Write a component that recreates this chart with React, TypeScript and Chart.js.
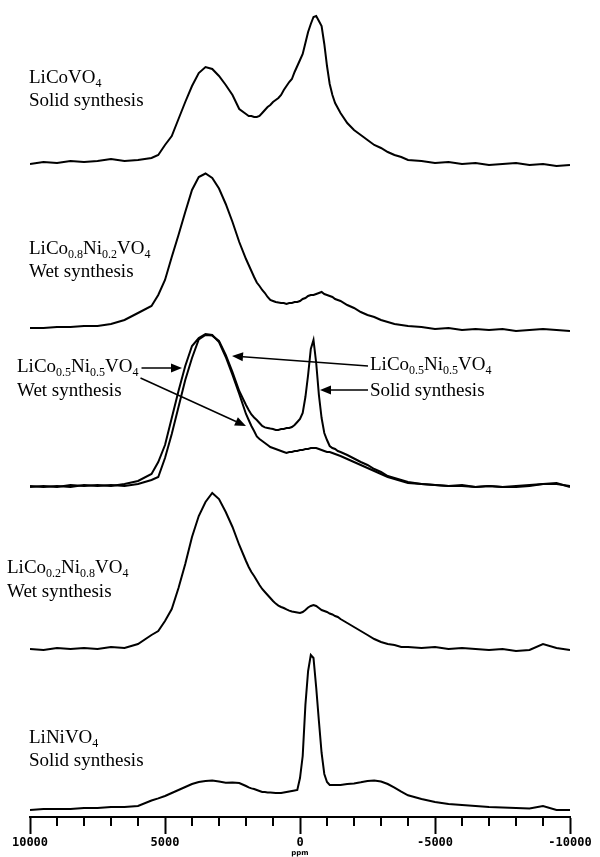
import React, { useEffect, useRef } from 'react';
import { Chart, registerables } from 'chart.js';

Chart.register(...registerables);

// chemical shift grid (ppm)
const PPM = [
  10000, 9500, 9000, 8500, 8000, 7500, 7000, 6500, 6000, 5500,
  5250, 5000, 4750, 4500, 4250, 4000, 3750, 3500, 3250, 3000, 2750, 2500, 2250, 2000,
  1900, 1800, 1700, 1600, 1500, 1400, 1300, 1200, 1100, 1000, 900, 800, 700, 600, 500, 400, 300, 200, 100, 0,
  -100, -200, -300, -400, -500, -600, -700, -800, -900, -1000, -1100, -1200, -1300, -1400, -1500,
  -1750, -2000, -2250, -2500, -2750, -3000, -3250, -3500, -3750, -4000,
  -4500, -5000, -5500, -6000, -6500, -7000, -7500, -8000, -8500, -9000, -9500, -10000,
];

// intensities (relative to each trace's own baseline)
const LICOVO4_SOLID = [
  1, 3, 2, 4, 3, 4, 6, 4, 5, 7,
  10, 20, 29, 46, 63, 79, 92, 98, 96, 89, 80, 70, 56, 51,
  49, 49, 48, 48, 49, 52, 55, 58, 60, 63, 65, 67, 70, 75, 79, 83, 86, 93, 99, 105,
  111, 122, 133, 141, 148, 149, 144, 139, 121, 99, 81, 70, 62, 57, 52,
  42, 35, 30, 25, 20, 17, 13, 10, 8, 5,
  4, 2, 3, 1, 2, 0, 1, 2, 0, 1, -1, 0,
];
const LICO08NI02_WET = [
  2, 2, 3, 3, 4, 4, 6, 10, 17, 24,
  35, 50, 73, 95, 118, 140, 153, 156.5, 152, 141.5, 126, 108, 88, 71,
  65, 59, 53, 47.5, 44, 40, 37, 33, 30, 29, 28, 27.5, 27, 27, 26, 27, 27, 28, 28, 29,
  31, 32, 34, 35, 35, 36, 37, 38, 36, 35, 34, 33, 31, 30, 29,
  25, 22, 18, 15, 13, 10, 8, 6, 5, 4,
  3, 1, 2, 0, 1, 0, 1, -1, 0, 1, 0, -1,
];
const LICO05NI05_WET = [
  0, 1, 0, 2, 1, 2, 1, 3, 6, 13,
  25, 42, 69, 96, 121, 141, 149, 153, 152, 145, 130, 112, 93, 73,
  67, 61, 56, 50.5, 48, 46, 44, 42, 40, 39, 38, 37, 36, 35, 34, 35, 35, 36, 36, 37,
  37, 38, 38, 39, 39, 39, 38, 37, 36, 35, 35, 34, 33, 32, 31,
  28, 25, 22, 19, 16, 13, 10, 8, 6, 4,
  3, 2, 1, 2, 0, 1, 0, 1, 2, 3, 4, 0,
];
const LICO05NI05_SOLID = [
  1, 0, 1, 0, 2, 1, 2, 1, 3, 7,
  10, 29, 53, 80, 107, 129, 147.5, 152, 151.4, 146, 132, 115, 96, 82,
  77, 72.5, 69.5, 67, 64, 61, 59.6, 59, 58.4, 58, 57, 57, 58, 58, 59, 59, 60, 62, 65, 68,
  74, 90, 112, 138, 147, 124, 92, 69, 54, 47, 41, 39, 38, 36, 35,
  32, 28.5, 25, 22, 18, 15, 11, 9, 7, 5,
  3, 2, 1, 1, 0, 1, 0, 0, 1, 3, 3, 1,
];
const LICO02NI08_WET = [
  2, 1, 3, 2, 3, 2, 4, 3, 7, 16,
  20, 30, 42, 63, 87, 114, 135, 149, 158, 152, 139, 124, 106, 90,
  84, 79, 75, 70.5, 66, 62, 59, 56, 53, 50, 47.4, 45.4, 44, 43, 41.6, 40.4, 39.5, 39, 38.5, 38,
  39, 41, 43.5, 45, 46, 45, 43, 41, 40, 39, 37.5, 36.5, 35, 34, 32,
  28, 24, 20, 16, 12, 9, 7, 6, 4, 4,
  3, 4, 2, 3, 2, 1, 2, 0, 1, 7, 3, 1,
];
const LINIVO4_SOLID = [
  0, 1, 1, 1, 2, 2, 3, 3, 4, 9.5,
  11.6, 14, 17, 20, 23, 26, 28, 29, 29.6, 28.4, 27.2, 27.5, 27, 24,
  22.6, 21.6, 21, 20, 19, 18, 18, 17.6, 17.4, 17.2, 17, 17, 17, 17.5, 18, 18.5, 19, 19.5, 20, 32,
  54, 105, 139, 155, 152, 122.5, 89, 57, 36, 28, 25, 25, 25, 25, 25,
  26, 26.6, 27.7, 29, 29.6, 28.5, 26, 22.4, 18.4, 14.7,
  11, 8, 6, 5, 4, 3, 2.5, 2, 1.5, 4, 0, 0,
];

const MAJOR_TICKS = [10000, 5000, 0, -5000, -10000];
const MINOR_TICKS = [9000, 8000, 7000, 6000, 4000, 3000, 2000, 1000, -1000, -2000, -3000, -4000, -6000, -7000, -8000, -9000];

// vertical stacking offsets (layout)
const STACK = { s1: 652, s2: 487, s3: 330, s4: 166, s5: 7 };

const SERIF = '"Liberation Serif", "Times New Roman", serif';
const MAIN_FONT = `19px ${SERIF}`;
const SUB_FONT = `12px ${SERIF}`;

type Part = { t: string; sub?: boolean };

function drawRich(ctx: CanvasRenderingContext2D, x: number, y: number, parts: Part[]) {
  let cx = x;
  for (const p of parts) {
    ctx.font = p.sub ? SUB_FONT : MAIN_FONT;
    ctx.fillText(p.t, cx, p.sub ? y + 4 : y);
    cx += ctx.measureText(p.t).width;
  }
  return cx;
}

function arrow(ctx: CanvasRenderingContext2D, x1: number, y1: number, x2: number, y2: number) {
  const ang = Math.atan2(y2 - y1, x2 - x1);
  const len = 11;
  const hw = 4.5;
  const bx = x2 - Math.cos(ang) * len;
  const by = y2 - Math.sin(ang) * len;
  ctx.beginPath();
  ctx.moveTo(x1, y1);
  ctx.lineTo(bx, by);
  ctx.lineWidth = 1.5;
  ctx.stroke();
  ctx.beginPath();
  ctx.moveTo(x2, y2);
  ctx.lineTo(bx - Math.sin(ang) * hw, by + Math.cos(ang) * hw);
  ctx.lineTo(bx + Math.sin(ang) * hw, by - Math.cos(ang) * hw);
  ctx.closePath();
  ctx.fill();
}

const formula = (a: string, b?: string, c?: string): Part[] => {
  if (!b) return [{ t: a }, { t: 'VO' }, { t: '4', sub: true }];
  return [{ t: 'LiCo' }, { t: b, sub: true }, { t: 'Ni' }, { t: c as string, sub: true }, { t: 'VO' }, { t: '4', sub: true }];
};

const annotationPlugin = {
  id: 'annot',
  afterDraw(chart: any) {
    const ctx: CanvasRenderingContext2D = chart.ctx;
    const xs = chart.scales.x;
    const axisY = chart.chartArea.bottom;
    ctx.save();
    ctx.fillStyle = '#000';
    ctx.strokeStyle = '#000';
    // minor ticks
    ctx.lineWidth = 2;
    for (const v of MINOR_TICKS) {
      const px = Math.round(xs.getPixelForValue(v));
      ctx.beginPath();
      ctx.moveTo(px, axisY);
      ctx.lineTo(px, axisY + 9);
      ctx.stroke();
    }
    ctx.textBaseline = 'alphabetic';
    // trace labels
    drawRich(ctx, 29, 83, formula('LiCo'));
    drawRich(ctx, 29, 106, [{ t: 'Solid synthesis' }]);

    drawRich(ctx, 29, 254, formula('', '0.8', '0.2'));
    drawRich(ctx, 29, 277, [{ t: 'Wet synthesis' }]);

    const endL = drawRich(ctx, 17, 372, formula('', '0.5', '0.5'));
    drawRich(ctx, 17, 396, [{ t: 'Wet synthesis' }]);
    drawRich(ctx, 370, 370, formula('', '0.5', '0.5'));
    drawRich(ctx, 370, 396, [{ t: 'Solid synthesis' }]);

    drawRich(ctx, 7, 573, formula('', '0.2', '0.8'));
    drawRich(ctx, 7, 597, [{ t: 'Wet synthesis' }]);

    drawRich(ctx, 29, 743, formula('LiNi'));
    drawRich(ctx, 29, 766, [{ t: 'Solid synthesis' }]);

    // arrows
    arrow(ctx, endL + 3, 368, 182, 368);
    arrow(ctx, endL + 2, 378, 246, 426);
    arrow(ctx, 368, 366, 232, 356);
    arrow(ctx, 368, 390, 320, 390);
    ctx.restore();
  },
};

const mk = (arr: number[], off: number) => ({
  data: PPM.map((x, i) => ({ x, y: arr[i] + off })),
  borderColor: '#000',
  borderWidth: 2,
  pointRadius: 0,
  tension: 0,
  fill: false,
});

export default function App() {
  const ref = useRef<HTMLCanvasElement>(null);
  useEffect(() => {
    if (!ref.current) return;
    const chart = new Chart(ref.current, {
      type: 'line',
      data: {
        datasets: [
          mk(LICOVO4_SOLID, STACK.s1),
          mk(LICO08NI02_WET, STACK.s2),
          mk(LICO05NI05_WET, STACK.s3),
          mk(LICO05NI05_SOLID, STACK.s3),
          mk(LICO02NI08_WET, STACK.s4),
          mk(LINIVO4_SOLID, STACK.s5),
        ] as any,
      },
      options: {
        animation: false,
        responsive: false,
        devicePixelRatio: 1,
        layout: { padding: { left: 30, right: 30, top: 0, bottom: 0 } },
        plugins: { legend: { display: false }, tooltip: { enabled: false } },
        scales: {
          x: {
            type: 'linear',
            reverse: true,
            min: -10000,
            max: 10000,
            afterFit: (s: any) => { s.height = 40; },
            afterBuildTicks: (s: any) => { s.ticks = MAJOR_TICKS.map((v) => ({ value: v })); },
            grid: { drawOnChartArea: false, drawTicks: true, tickLength: 17, tickWidth: 2, tickColor: '#000' },
            border: { display: true, color: '#000', width: 2 },
            ticks: {
              autoSkip: false,
              maxRotation: 0,
              padding: 2,
              color: '#000',
              font: { family: '"DejaVu Sans Mono", monospace', size: 12, weight: 'bold' },
              callback: (v: any) => String(v),
            },
            title: {
              display: true,
              text: 'ppm',
              color: '#000',
              padding: 0,
              font: { family: '"DejaVu Sans", sans-serif', size: 7, weight: 'bold', lineHeight: 1 },
            },
          },
          y: { display: false, min: 0, max: 817 },
        },
      } as any,
      plugins: [annotationPlugin],
    });
    return () => chart.destroy();
  }, []);
  return (
    <div style={{ position: 'absolute', left: 0, top: 0, width: 600, height: 857, background: '#fff' }}>
      <canvas ref={ref} width={600} height={857} style={{ display: 'block' }} />
    </div>
  );
}
